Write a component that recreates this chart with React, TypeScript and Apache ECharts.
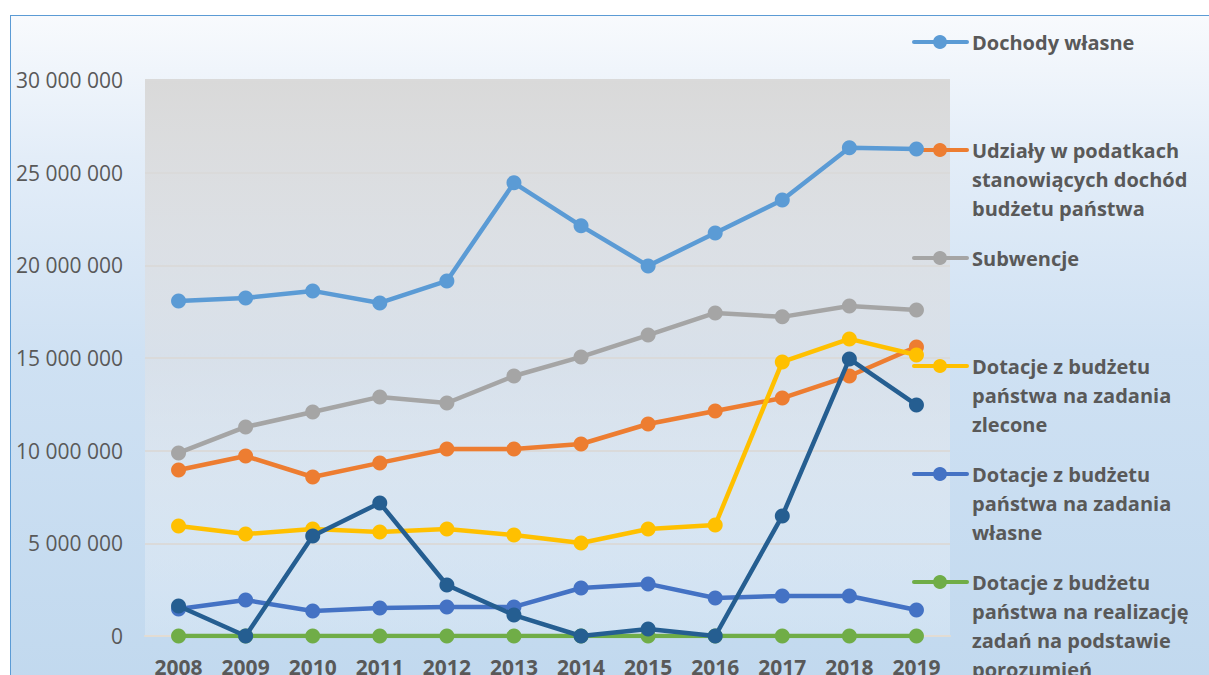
import React, { useEffect, useRef } from "react";
import * as echarts from "echarts";

const years = ["2008", "2009", "2010", "2011", "2012", "2013", "2014", "2015", "2016", "2017", "2018", "2019"];

const dochodyWlasne = [18080000, 18240000, 18620000, 17970000, 19160000, 24450000, 22130000, 19970000, 21750000, 23530000, 26340000, 26280000];
const udzialy = [8960000, 9710000, 8580000, 9340000, 10090000, 10090000, 10360000, 11440000, 12140000, 12840000, 14030000, 15600000];
const subwencje = [9880000, 11280000, 12090000, 12900000, 12570000, 14030000, 15060000, 16240000, 17430000, 17220000, 17810000, 17590000];
const dotacjeZlecone = [5940000, 5500000, 5770000, 5610000, 5770000, 5450000, 5020000, 5770000, 5990000, 14790000, 16030000, 15160000];
const dotacjeWlasne = [1460000, 1940000, 1350000, 1510000, 1570000, 1570000, 2590000, 2810000, 2050000, 2160000, 2160000, 1400000];
const dotacjePorozumienia = [0, 0, 0, 0, 0, 0, 0, 0, 0, 0, 0, 0];
const dotacjeInne = [1620000, 0, 5400000, 7180000, 2750000, 1130000, 0, 380000, 0, 6480000, 14950000, 12470000];

const seriesNames = [
  "Dochody własne",
  "Udziały w podatkach stanowiących dochód budżetu państwa",
  "Subwencje",
  "Dotacje z budżetu państwa na zadania zlecone",
  "Dotacje z budżetu państwa na zadania własne",
  "Dotacje z budżetu państwa na realizację zadań na podstawie porozumień",
  "Pozostałe dotacje",
];
// legend entries visible in the picture (the last series' entry falls below the page)
const legendLines = [
  ["Dochody własne"],
  ["Udziały w podatkach", "stanowiących dochód", "budżetu państwa"],
  ["Subwencje"],
  ["Dotacje z budżetu", "państwa na zadania", "zlecone"],
  ["Dotacje z budżetu", "państwa na zadania", "własne"],
  ["Dotacje z budżetu", "państwa na realizację", "zadań na podstawie", "porozumień"],
];
const seriesData = [dochodyWlasne, udzialy, subwencje, dotacjeZlecone, dotacjeWlasne, dotacjePorozumienia, dotacjeInne];
const colors = ["#5b9bd5", "#ed7d31", "#a5a5a5", "#ffc000", "#4472c4", "#70ad47", "#255e91"];

const yTicksMax = 30000000;
const yTickStep = 5000000;

const fmt = (v: number) => String(Math.round(v)).replace(/\B(?=(\d{3})+(?!\d))/g, " ");

export default function App() {
  const ref = useRef<HTMLDivElement>(null);
  useEffect(() => {
    if (!ref.current) return;
    const chart = echarts.init(ref.current, undefined, { renderer: "svg" });
    const legendGraphics: any[] = [];
    legendLines.forEach((lines, i) => {
      const y0 = 42 + 108 * i;
      legendGraphics.push({
        type: "line",
        shape: { x1: 914, y1: y0, x2: 967, y2: y0 },
        style: { stroke: colors[i], lineWidth: 4, lineCap: "round" },
        silent: true,
      });
      legendGraphics.push({
        type: "circle",
        shape: { cx: 940, cy: y0, r: 7 },
        style: { fill: colors[i] },
        silent: true,
      });
      legendGraphics.push({
        type: "text",
        x: 972,
        y: y0 - 14.5,
        style: {
          text: lines.join("\n"),
          fill: "#595959",
          font: "bold 20px 'Open Sans'",
          lineHeight: 29,
          verticalAlign: "top",
          align: "left",
        },
        silent: true,
      });
    });
    chart.setOption({
      animation: false,
      grid: {
        left: 145,
        right: 259,
        top: 80,
        bottom: 39,
        outerBoundsMode: "none",
        containLabel: false,
        show: true,
        borderWidth: 0,
        backgroundColor: new echarts.graphic.LinearGradient(0, 0, 0, 1, [
          { offset: 0, color: "rgba(217,217,217,1)" },
          { offset: 0.5, color: "rgba(222,224,228,0.6)" },
          { offset: 1, color: "rgba(255,255,255,0.2)" },
        ]),
      },
      xAxis: {
        type: "category",
        data: years,
        boundaryGap: true,
        axisLine: { show: true, lineStyle: { color: "#e2dcd3", width: 2 } },
        axisTick: { show: false },
        axisLabel: {
          color: "#595959",
          fontFamily: "Open Sans",
          fontWeight: "bold",
          fontSize: 21,
          margin: 20,
        },
      },
      yAxis: {
        type: "value",
        min: 0,
        max: yTicksMax,
        interval: yTickStep,
        axisLine: { show: false },
        axisTick: { show: false },
        splitLine: { lineStyle: { color: "#dadada", width: 2 } },
        axisLabel: {
          color: "#595959",
          fontFamily: "Open Sans",
          fontSize: 21,
          margin: 22,
          formatter: (v: number) => fmt(v),
        },
      },
      graphic: legendGraphics,
      series: seriesData.map((d, i) => ({
        name: seriesNames[i],
        type: "line",
        data: d,
        symbol: "circle",
        symbolSize: 15,
        showSymbol: true,
        lineStyle: { color: colors[i], width: 4.5 },
        itemStyle: { color: colors[i] },
        z: 2 + i,
      })),
    });
    return () => chart.dispose();
  }, []);
  return (
    <div style={{ position: "fixed", left: 0, top: 0, width: 1209, height: 675, background: "#ffffff", overflow: "hidden" }}>
      <div
        style={{
          position: "absolute",
          left: 10,
          top: 15,
          width: 1300,
          height: 700,
          borderLeft: "1.5px solid #5b9bd5",
          borderTop: "1.5px solid #5b9bd5",
          background: "linear-gradient(to bottom, #f8fafd 0%, #e3edf8 20%, #cfe1f3 48%, #c0d8ee 100%)",
        }}
      />
      <div ref={ref} style={{ position: "absolute", left: 0, top: 0, width: 1209, height: 675 }} />
    </div>
  );
}
